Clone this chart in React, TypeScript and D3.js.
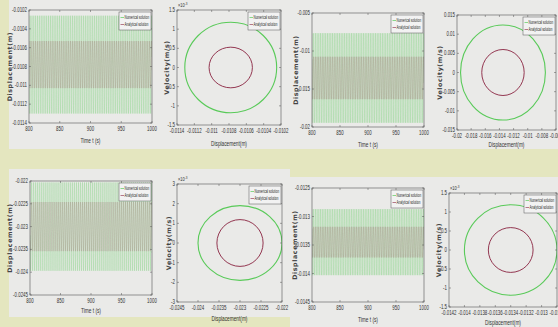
import React from "react";
import * as d3 from "d3";

const W = 558;
const H = 327;

// ---- time history panels (top-left, top-middle-right, bottom-left, bottom-middle-right)
const tsMean = [-0.01078, -0.01355, -0.023, -0.01345];
const tsNumAmp = [0.00052, 0.0059, 0.00097, 0.00058];
const tsAnaAmp = [0.00025, 0.0028, 0.00054, 0.00027];
const omega = [2.1, 2.05, 1.95, 2.05]; // rad/s, from the phase portraits (v / x radius)
const timeTicks = [800, 850, 900, 950, 1000];
const tsYMin = [-0.0114, -0.02, -0.0245, -0.0145];
const tsYMax = [-0.0102, -0.005, -0.022, -0.0125];
const tsYStep = [0.0002, 0.005, 0.0005, 0.0005];

// ---- phase portraits
const phCenter = [-0.01078, -0.0135, -0.023, -0.0134];
const phNumX = [0.00053, 0.006, 0.001, 0.0006];
const phAnaX = [0.00025, 0.003, 0.00055, 0.00029];
const phNumV = [1.18e-3, 0.0124, 1.9e-3, 1.19e-3];
const phAnaV = [0.53e-3, 0.006, 1.19e-3, 0.59e-3];
const phXMin = [-0.0114, -0.02, -0.0245, -0.0142];
const phXMax = [-0.0102, -0.006, -0.022, -0.0128];
const phXStep = [0.0002, 0.002, 0.0005, 0.0002];
const phVMax = [1.5e-3, 0.015, 3e-3, 1.5e-3];
const phVStep = [0.5e-3, 0.005, 1e-3, 0.5e-3];
const phVExp = [-3, 0, -3, -3];

const legendLabels = ["Numerical solution", "Analytical solution"];

const GREEN = "#3fc43f";
const RED = "#8a2440";
const FONT = "'Liberation Sans', Arial, sans-serif";

// screen boxes: [left, right, top, bottom], label positions
const tsBox = [
  [29, 152, 10, 123],
  [312, 424, 13, 127],
  [30, 152, 181, 295],
  [312, 424, 188, 302],
];
const tsLab = [
  [12, 143],
  [298, 147],
  [12, 313],
  [297, 322],
];
const phBox = [
  [177, 281, 10, 125],
  [457, 556, 15, 130],
  [177, 282, 184, 302],
  [449, 557, 193, 307],
];
const phLab = [
  [169, 146],
  [442, 147],
  [171, 321],
  [441, 325],
];

const fmt = (v: number) => String(+v.toFixed(6));
const ticksOf = (lo: number, hi: number, step: number) => {
  const n = Math.round((hi - lo) / step);
  return d3.range(n + 1).map((i) => +(lo + i * step).toFixed(8));
};

// narrow text: the source figure is squeezed horizontally
const T = ({
  x,
  y,
  size,
  anchor = "start",
  sx = 0.7,
  fill = "#333",
  children,
}: {
  x: number;
  y: number;
  size: number;
  anchor?: string;
  sx?: number;
  fill?: string;
  children: React.ReactNode;
}) => (
  <text transform={`translate(${x},${y}) scale(${sx},1)`} fontSize={size} textAnchor={anchor} fill={fill} fontFamily={FONT}>
    {children}
  </text>
);

type AxesProps = {
  box: number[];
  x: d3.ScaleLinear<number, number>;
  y: d3.ScaleLinear<number, number>;
  xt: number[];
  yt: number[];
  xf: (v: number) => string;
  yf: (v: number) => string;
  xlabel: string;
  ylabel: string;
  lab: number[];
  exp?: number;
  children?: React.ReactNode;
};

const Axes = ({ box, x, y, xt, yt, xf, yf, xlabel, ylabel, lab, exp, children }: AxesProps) => {
  const [l, r, t, b] = box;
  const id = `clip-${l}-${t}`;
  return (
    <g>
      <clipPath id={id}>
        <rect x={l} y={t} width={r - l} height={b - t} />
      </clipPath>
      <g clipPath={`url(#${id})`}>{children}</g>
      <rect x={l} y={t} width={r - l} height={b - t} fill="none" stroke="#555" strokeWidth={0.6} />
      {xt.map((v) => (
        <g key={"x" + v}>
          <line x1={x(v)} x2={x(v)} y1={b} y2={b - 2} stroke="#555" strokeWidth={0.5} />
          <line x1={x(v)} x2={x(v)} y1={t} y2={t + 2} stroke="#555" strokeWidth={0.5} />
          <T x={x(v)} y={b + 8} size={6.3} anchor="middle">
            {xf(v)}
          </T>
        </g>
      ))}
      {yt.map((v) => (
        <g key={"y" + v}>
          <line x1={l} x2={l + 2} y1={y(v)} y2={y(v)} stroke="#555" strokeWidth={0.5} />
          <line x1={r} x2={r - 2} y1={y(v)} y2={y(v)} stroke="#555" strokeWidth={0.5} />
          <T x={l - 2} y={y(v) + 2} size={6.3} anchor="end">
            {yf(v)}
          </T>
        </g>
      ))}
      {exp ? (
        <T x={l + 1} y={t - 3} size={5} sx={0.8}>
          ×10<tspan dy={-2} fontSize={3.8}>{exp}</tspan>
        </T>
      ) : null}
      <T x={(l + r) / 2} y={lab[1]} size={6.8} anchor="middle">
        {xlabel}
      </T>
      <text
        transform={`translate(${lab[0]},${(t + b) / 2}) rotate(-90)`}
        fontSize={6.3}
        fontWeight="bold"
        letterSpacing={0.6}
        textAnchor="middle"
        fill="#444"
        fontFamily="'DejaVu Sans', sans-serif"
      >
        {ylabel}
      </text>
      <Legend right={r - 1} top={t + 2} />
    </g>
  );
};

const Legend = ({ right, top }: { right: number; top: number }) => {
  const w = 32;
  const h = 18;
  const l = right - w;
  return (
    <g>
      <rect x={l} y={top} width={w} height={h} fill="#f2f2f2" stroke="#555" strokeWidth={0.5} />
      {legendLabels.map((s, i) => (
        <g key={s}>
          <line x1={l + 1.5} x2={l + 5} y1={top + 5.5 + i * 7} y2={top + 5.5 + i * 7} stroke={i === 0 ? GREEN : RED} strokeWidth={0.6} />
          <T x={l + 5.5} y={top + 7.2 + i * 7} size={5} sx={0.6} fill="#222">
            {s}
          </T>
        </g>
      ))}
    </g>
  );
};

const TimePanel = ({ i }: { i: number }) => {
  const [l, r, t, b] = tsBox[i];
  const x = d3.scaleLinear().domain([800, 1000]).range([l, r]);
  const y = d3.scaleLinear().domain([tsYMin[i], tsYMax[i]]).range([b, t]);
  const ts = d3.range(800, 1000.001, 0.04);
  const line = d3.line<number>().x((tt) => x(tt));
  const num = line.y((tt) => y(tsMean[i] + tsNumAmp[i] * Math.cos(omega[i] * tt)))(ts) || "";
  const ana = line.y((tt) => y(tsMean[i] + tsAnaAmp[i] * Math.cos(omega[i] * tt + 0.4)))(ts) || "";
  return (
    <Axes
      box={tsBox[i]}
      x={x}
      y={y}
      xt={timeTicks}
      yt={ticksOf(tsYMin[i], tsYMax[i], tsYStep[i])}
      xf={fmt}
      yf={fmt}
      xlabel="Time t (s)"
      ylabel="Displacement(m)"
      lab={tsLab[i]}
    >
      <path d={num} fill="none" stroke={GREEN} strokeWidth={0.45} strokeOpacity={0.45} />
      <path d={ana} fill="none" stroke={RED} strokeWidth={0.4} strokeOpacity={0.35} />
    </Axes>
  );
};

const PhasePanel = ({ i }: { i: number }) => {
  const [l, r, t, b] = phBox[i];
  const x = d3.scaleLinear().domain([phXMin[i], phXMax[i]]).range([l, r]);
  const y = d3.scaleLinear().domain([-phVMax[i], phVMax[i]]).range([b, t]);
  const k = Math.pow(10, -phVExp[i]);
  const cx = x(phCenter[i]);
  const cy = y(0);
  return (
    <Axes
      box={phBox[i]}
      x={x}
      y={y}
      xt={ticksOf(phXMin[i], phXMax[i], phXStep[i])}
      yt={ticksOf(-phVMax[i], phVMax[i], phVStep[i])}
      xf={fmt}
      yf={(v) => fmt(v * k)}
      xlabel="Displacement(m)"
      ylabel="Velocity(m/s)"
      lab={phLab[i]}
      exp={phVExp[i] || undefined}
    >
      <ellipse cx={cx} cy={cy} rx={x(phCenter[i] + phNumX[i]) - cx} ry={cy - y(phNumV[i])} fill="none" stroke={GREEN} strokeWidth={1.1} strokeOpacity={0.85} />
      <ellipse cx={cx} cy={cy} rx={x(phCenter[i] + phAnaX[i]) - cx} ry={cy - y(phAnaV[i])} fill="none" stroke={RED} strokeWidth={1} strokeOpacity={0.9} />
    </Axes>
  );
};

export default function App() {
  return (
    <div style={{ position: "fixed", left: 0, top: 0 }}>
      <svg width={W} height={H} style={{ display: "block" }}>
        <rect width={W} height={H} fill="#e4e6bf" />
        <rect x={9} y={0} width={W - 9} height={149} fill="#eaeae8" />
        <rect x={9} y={169} width={281} height={148} fill="#eaeae8" />
        <rect x={290} y={177} width={W - 290} height={150} fill="#eaeae8" />
        {[0, 1, 2, 3].map((i) => (
          <TimePanel key={"t" + i} i={i} />
        ))}
        {[0, 1, 2, 3].map((i) => (
          <PhasePanel key={"p" + i} i={i} />
        ))}
      </svg>
    </div>
  );
}
